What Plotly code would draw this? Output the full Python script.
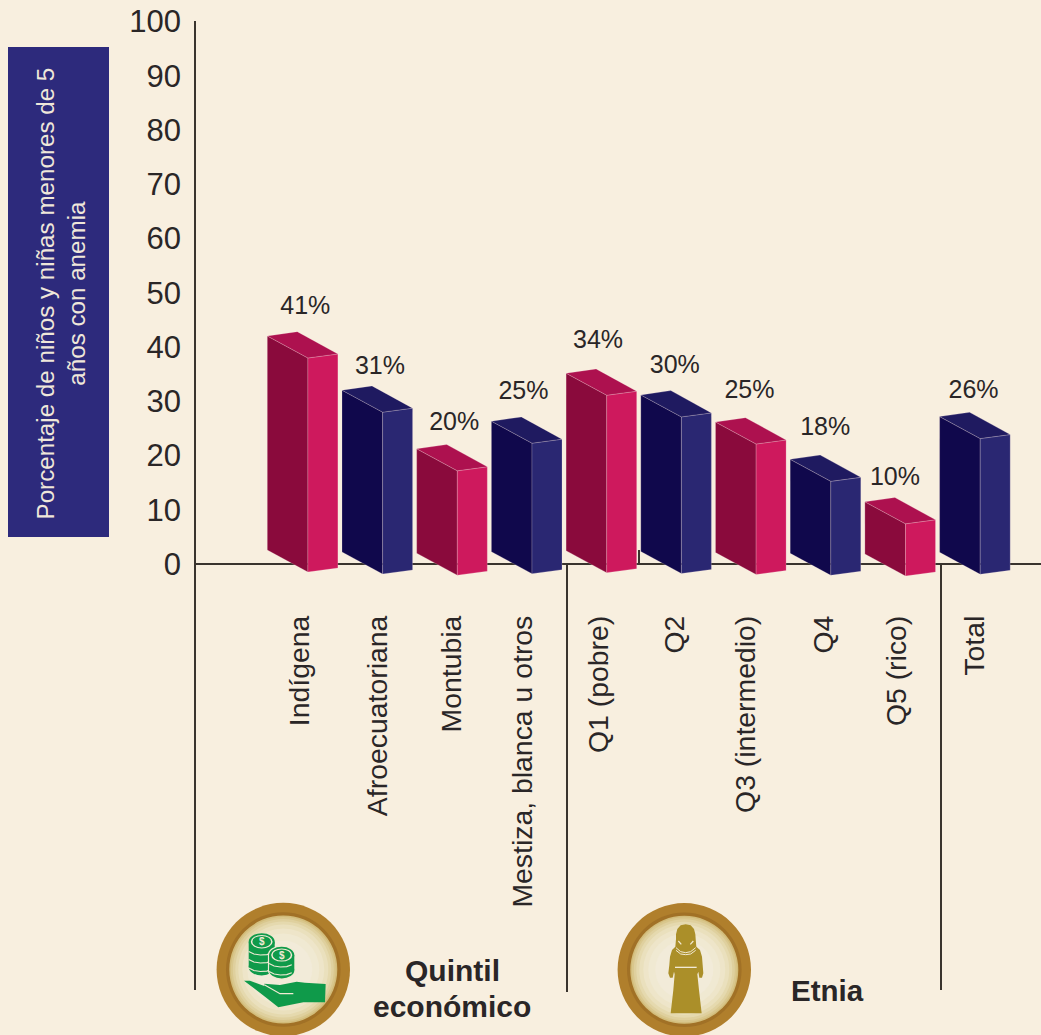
import plotly.graph_objects as go

# ---- data ----
categories = ["Indígena", "Afroecuatoriana", "Montubia", "Mestiza, blanca u otros",
              "Q1 (pobre)", "Q2", "Q3 (intermedio)", "Q4", "Q5 (rico)", "Total"]
values = [41, 31, 20, 25, 34, 30, 25, 18, 10, 26]
y_ticks = [0, 10, 20, 30, 40, 50, 60, 70, 80, 90, 100]
group_scheme = ["crimson", "navy", "crimson", "navy", "crimson", "navy", "crimson", "navy", "crimson", "navy"]

# ---- layout geometry (pixels) ----
W, H = 1041, 1035
ZERO_PX, UNIT_PX = 564.0, 5.425
BAR_UNIT_PX = 5.22
BAR_X0, BAR_STEP = 267.3, 74.7
bar_floor_px = [550, 552, 553.2, 551.7, 550.7, 551.5, 552.5, 553.3, 554, 552.3]
label_dx = [38, 38, 37.5, 32, 32, 34, 34, 35, 30, 34]
label_dy = [23.5, 18, 21, 24, 27, 24, 26, 26.5, 19, 20.5]
tick_dx = [32, 36, 35, 31, 33, 34, 30, 34, 32, 35]
LABEL_FONT = "Liberation Sans"
INK = "#2a2627"
BG = "#f8efdf"
palette = {
    "crimson": {"side": "#8a0a3c", "front": "#ce195d", "top": "#ad114f"},
    "navy": {"side": "#10084c", "front": "#2a2772", "top": "#1f1a60"},
}
EDGE = "rgba(255,235,235,0.35)"


def to_units(p):
    return (ZERO_PX - p) / UNIT_PX


fig = go.Figure()


def face(xs, ys, color, name):
    fig.add_trace(go.Scatter(x=xs + xs[:1], y=[to_units(v) for v in ys + ys[:1]], mode="lines",
                             fill="toself", fillcolor=color, line=dict(color=EDGE, width=0.6),
                             hoverinfo="skip", showlegend=False, name=name))


lab_x, lab_y, lab_t = [], [], []
for i, (cat, v, sch) in enumerate(zip(categories, values, group_scheme)):
    L = BAR_X0 + i * BAR_STEP
    floor = bar_floor_px[i]
    top = floor - v * BAR_UNIT_PX
    c = palette[sch]
    fx, rx, bx = L + 40.6, L + 70.6, L + 30
    face([L, fx, fx, L], [top, top + 22, floor + 22, floor], c["side"], cat + " lado")
    face([fx, rx, rx, fx], [top + 22, top + 18, floor + 18, floor + 22], c["front"], cat + " frente")
    face([L, bx, rx, fx], [top, top - 4.3, top + 18, top + 22], c["top"], cat + " tapa")
    lab_x.append(L + label_dx[i])
    lab_y.append(to_units(top - 4.3 - label_dy[i]))
    lab_t.append(f"{v}%")

fig.add_trace(go.Scatter(x=lab_x, y=lab_y, text=lab_t, mode="text", textposition="middle center",
                         textfont=dict(family=LABEL_FONT, size=25, color=INK),
                         hoverinfo="skip", showlegend=False))


def X(x):
    return x / W


def Y(y):
    return 1 - y / H


shapes = []


def line(x0, y0, x1, y1, color="#3a342e", width=2, layer="below"):
    shapes.append(dict(type="line", xref="paper", yref="paper", x0=X(x0), y0=Y(y0), x1=X(x1), y1=Y(y1),
                       line=dict(color=color, width=width), layer=layer))


def disc(cx, cy, rx, ry=None, fill="#000", stroke=None, sw=0):
    ry = rx if ry is None else ry
    shapes.append(dict(type="circle", xref="paper", yref="paper", x0=X(cx - rx), x1=X(cx + rx),
                       y0=Y(cy + ry), y1=Y(cy - ry), fillcolor=fill,
                       line=dict(color=stroke or fill, width=sw), layer="above"))


def poly(pts, ox, oy, s, fill=None, stroke=None, sw=0, close=True):
    d = "M " + " L ".join(f"{X(ox + a / s):.5f},{Y(oy + b / s):.5f}" for a, b in pts)
    if close:
        d += " Z"
    sh = dict(type="path", xref="paper", yref="paper", path=d,
              line=dict(color=stroke or "rgba(0,0,0,0)", width=sw), layer="above")
    if fill:
        sh["fillcolor"] = fill
    shapes.append(sh)


# axes lines
line(195, 21, 195, 990)
line(567, 564, 567, 992)
line(941, 564, 941, 990)
line(195, 564, 1041, 564)
line(639, 550, 639, 564)

# y title box
shapes.append(dict(type="rect", xref="paper", yref="paper", x0=X(8), x1=X(109), y0=Y(537), y1=Y(47),
                   fillcolor="#2d2a7c", line=dict(width=0), layer="below"))


def medallion(cx, cy):
    disc(cx, cy, 66.7, fill="#b07f2c")
    disc(cx, cy, 57.3, fill="#a17126")
    steps = [(54, "#d2bc7a"), (52.5, "#d9c78d"), (50.5, "#dfd09e"), (48, "#e5d9ae"), (45, "#eae0bd"),
             (41, "#eee5c9"), (36, "#f0e9d2"), (29, "#f2ebd9")]
    for r, col in steps:
        disc(cx, cy, r, fill=col)


GREEN = "#0f9a4a"
GOLD = "#ab8f29"
CREAM = "#f2ead4"

medallion(283.3, 969.5)
medallion(684.3, 969.8)


def coin_stack(cx, cy, rx, ry, bottom, arcs, outline=False):
    if outline:
        disc(cx, cy, rx + 1.2, ry + 1.2, fill=CREAM)
        poly([(cx - rx - 1.2, cy), (cx + rx + 1.2, cy), (cx + rx + 1.2, bottom - ry), (cx - rx - 1.2, bottom - ry)],
             0, 0, 1, fill=CREAM)
        disc(cx, bottom - ry, rx + 1.2, ry + 1.2, fill=CREAM)
    disc(cx, bottom - ry, rx, ry, fill=GREEN)
    poly([(cx - rx, cy), (cx + rx, cy), (cx + rx, bottom - ry), (cx - rx, bottom - ry)], 0, 0, 1, fill=GREEN)
    for yy in arcs:
        pts = [(cx - rx, yy - 3.5), (cx - rx * 0.6, yy - 1), (cx - rx * 0.1, yy), (cx + rx * 0.4, yy - 0.4), (cx + rx * 0.8, yy - 2.2)]
        poly(pts, 0, 0, 1, stroke=CREAM, sw=1.2, close=False)
    disc(cx, cy, rx, ry, fill=GREEN)
    disc(cx, cy, rx * 0.84, ry * 0.8, fill=CREAM)
    disc(cx, cy, rx * 0.72, ry * 0.68, fill=GREEN)


coin_stack(261.7, 941.7, 13, 8.5, 975.5, [955, 963, 971.5])
coin_stack(281.7, 955, 12.6, 8.2, 978.5, [967, 975], outline=True)

hand = [(57, 197), (75, 197), (118, 213), (118, 206), (165, 210), (215, 200), (240, 203), (302, 207),
        (300, 262), (235, 262), (160, 277), (120, 245)]
poly(hand, 225, 915, 3, fill=GREEN)
poly([(118, 209), (165, 236), (205, 236)], 225, 915, 3, stroke=CREAM, sw=1.2, close=False)

woman = [(137, 28), (122, 31), (112, 42), (108, 58), (108, 72), (106, 95), (96, 105), (90, 125), (88, 150), (85, 175),
         (90, 188), (98, 188), (102, 170), (104, 178), (100, 225), (92, 295), (185, 295), (177, 225), (172, 178),
         (175, 170), (178, 188), (186, 188), (190, 175), (188, 150), (186, 125), (180, 105), (169, 95),
         (167, 72), (166, 58), (162, 42), (152, 31)]
poly(woman, 640, 915, 3, fill=GOLD)
poly([(105, 157), (170, 157)], 640, 915, 3, stroke=CREAM, sw=1.3, close=False)
poly([(108, 98), (122, 110), (137, 113), (152, 110), (167, 98)], 640, 915, 3, stroke=CREAM, sw=1.0, close=False)
poly([(108, 106), (122, 117), (137, 119), (152, 117), (167, 106)], 640, 915, 3, stroke=CREAM, sw=1.0, close=False)
poly([(115, 78), (124, 88)], 640, 915, 3, stroke=CREAM, sw=1.2, close=False)
poly([(160, 78), (151, 88)], 640, 915, 3, stroke=CREAM, sw=1.2, close=False)


def note(x, y, text, size, color=INK, bold=False, angle=0):
    fig.add_annotation(x=X(x), y=Y(y), xref="paper", yref="paper", text=f"<b>{text}</b>" if bold else text,
                       showarrow=False, textangle=angle, xanchor="center", yanchor="middle", align="center",
                       font=dict(family=LABEL_FONT, size=size, color=color))


note(60.5, 294, "Porcentaje de niños y niñas menores de 5<br>años con anemia", 24.2, color="#efe7da", angle=-90)
note(452, 970, "Quintil", 30, bold=True)
note(452, 1006, "económico", 30, bold=True)
note(827, 990, "Etnia", 29.5, bold=True)
note(261.7, 941.7, "$", 10, color=CREAM, bold=True)
note(281.7, 955, "$", 10, color=CREAM, bold=True)

fig.update_layout(
    width=W, height=H, margin=dict(l=0, r=0, t=0, b=0, pad=0), autosize=False,
    paper_bgcolor=BG, plot_bgcolor=BG, showlegend=False, shapes=shapes,
    font=dict(family=LABEL_FONT, color=INK),
    xaxis=dict(range=[0, W], domain=[0, 1], showgrid=False, zeroline=False, showline=False, ticks="",
               tickmode="array", tickvals=[BAR_X0 + i * BAR_STEP + tick_dx[i] for i in range(len(categories))],
               ticktext=categories, tickangle=-90, tickfont=dict(family=LABEL_FONT, size=28.4, color=INK),
               anchor="free", position=Y(564), ticklabelstandoff=45, fixedrange=True),
    yaxis=dict(range=[to_units(H), to_units(0)], domain=[0, 1], showgrid=False, zeroline=False, showline=False,
               ticks="", tickmode="array", tickvals=y_ticks, ticktext=[str(t) for t in y_ticks],
               tickfont=dict(family=LABEL_FONT, size=31, color=INK),
               anchor="free", position=X(195), ticklabelstandoff=14, fixedrange=True),
)

fig.write_html("out.html", config={"displayModeBar": False},
               post_script="document.body.style.margin='0';document.body.style.overflow='hidden';document.body.style.background='#f8efdf';")
